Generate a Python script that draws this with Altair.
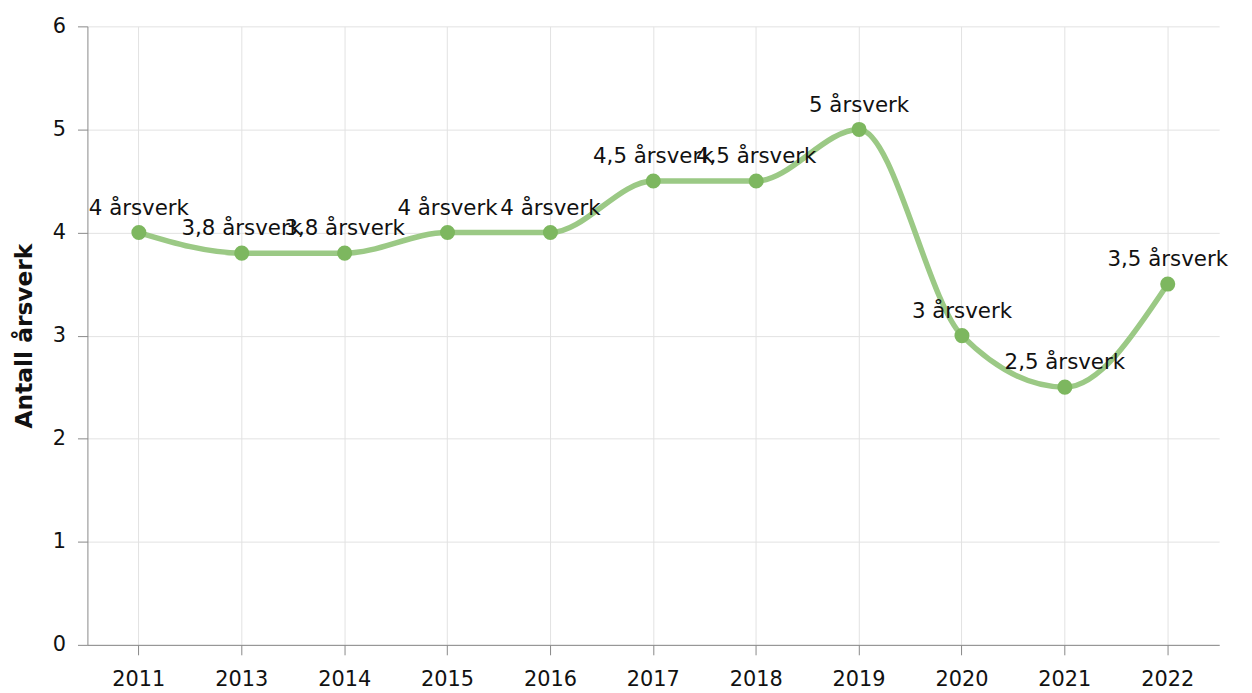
import altair as alt
import pandas as pd

years = ["2011", "2013", "2014", "2015", "2016", "2017", "2018", "2019", "2020", "2021", "2022"]
values = [4, 3.8, 3.8, 4, 4, 4.5, 4.5, 5, 3, 2.5, 3.5]
labels = ["4 årsverk", "3,8 årsverk", "3,8 årsverk", "4 årsverk", "4 årsverk", "4,5 årsverk",
          "4,5 årsverk", "5 årsverk", "3 årsverk", "2,5 årsverk", "3,5 årsverk"]

df = pd.DataFrame({"year": years, "value": values, "label": labels})

FONT = "DejaVu Sans"

x = alt.X("year:O", sort=years, bandPosition=0.5,
          scale=alt.Scale(type="band", paddingInner=0, paddingOuter=0),
          axis=alt.Axis(title=None, labelAngle=0, labelFontSize=21, labelFont=FONT, labelColor="#111",
                        labelPadding=14, tickSize=10, tickColor="#888", domainColor="#888",
                        grid=True, gridColor="#e2e2e2", tickBand="center"))
y = alt.Y("value:Q", scale=alt.Scale(domain=[0, 6]),
          axis=alt.Axis(title="Antall årsverk", titleFontSize=23.5, titleFont=FONT, titleFontWeight="bold",
                        titleColor="#111", titlePadding=16, values=[0, 1, 2, 3, 4, 5, 6],
                        labelFontSize=21, labelFont=FONT, labelColor="#111", labelPadding=12,
                        tickSize=10, tickColor="#888", domainColor="#888", gridColor="#e2e2e2"))

base = alt.Chart(df)
line = base.mark_line(interpolate="monotone", strokeWidth=5.5, color="#9bc985").encode(x=x, y=y)
pts = base.mark_circle(size=230, color="#7db75f", opacity=1).encode(x=x, y=y)
txt = base.mark_text(dy=-24, fontSize=21.5, font=FONT, color="#111").encode(x=x, y=y, text="label:N")

chart = (line + pts + txt).properties(
    width=1140, height=623,
    padding={"left": 4, "top": 5, "right": 16, "bottom": 2}
).configure_view(stroke=None)

chart.save("out.html", embed_options={"renderer": "svg", "actions": False})
